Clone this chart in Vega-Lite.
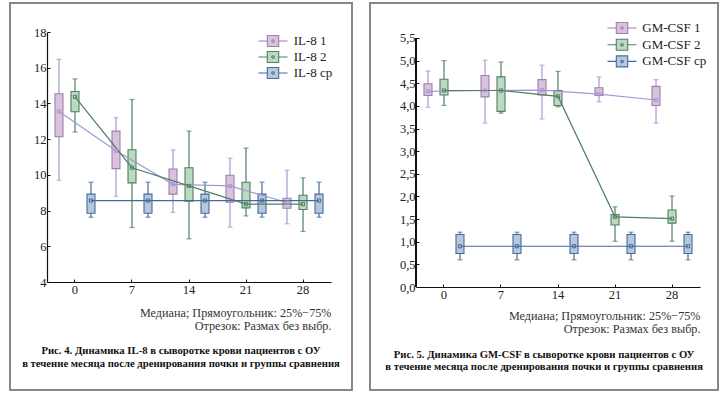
{
  "$schema": "https://vega.github.io/schema/vega-lite/v6.json",
  "padding": {"left": 9, "top": 2, "right": 0, "bottom": 0},
  "background": "white",
  "config": {
    "font": "Liberation Serif",
    "view": {"stroke": null},
    "concat": {"spacing": 16},
    "axis": {"labelFont": "Liberation Serif", "labelFontSize": 12.5, "labelColor": "#222", "domainColor": "#111", "tickColor": "#111", "grid": false, "tickSize": -3, "labelPadding": 4, "domainWidth": 1.2, "labelOverlap": false},
    "legend": {"labelFont": "Liberation Serif", "labelFontSize": 13, "labelColor": "#222"}
  },
  "datasets": {
    "il8": [
      {"day": 0, "group": "IL-8 1", "min": 9.7, "q1": 12.13, "median": 13.55, "q3": 14.54, "max": 16.47},
      {"day": 7, "group": "IL-8 1", "min": 8.8, "q1": 10.35, "median": 11.35, "q3": 12.45, "max": 13.2},
      {"day": 14, "group": "IL-8 1", "min": 7.9, "q1": 8.92, "median": 9.47, "q3": 10.33, "max": 11.4},
      {"day": 21, "group": "IL-8 1", "min": 7.07, "q1": 8.47, "median": 9.38, "q3": 9.98, "max": 10.93},
      {"day": 28, "group": "IL-8 1", "min": 7.26, "q1": 8.13, "median": 8.45, "q3": 8.69, "max": 10.26},
      {"day": 0, "group": "IL-8 2", "min": 12.4, "q1": 13.53, "median": 14.37, "q3": 14.67, "max": 15.37},
      {"day": 7, "group": "IL-8 2", "min": 7.05, "q1": 9.55, "median": 10.4, "q3": 11.41, "max": 14.22},
      {"day": 14, "group": "IL-8 2", "min": 6.42, "q1": 8.52, "median": 9.38, "q3": 10.4, "max": 12.45},
      {"day": 21, "group": "IL-8 2", "min": 7.7, "q1": 8.15, "median": 8.36, "q3": 9.59, "max": 11.5},
      {"day": 28, "group": "IL-8 2", "min": 6.83, "q1": 8.06, "median": 8.36, "q3": 8.86, "max": 9.83},
      {"day": 0, "group": "IL-8 ср", "min": 7.63, "q1": 7.85, "median": 8.56, "q3": 8.92, "max": 9.59},
      {"day": 7, "group": "IL-8 ср", "min": 7.63, "q1": 7.85, "median": 8.56, "q3": 8.92, "max": 9.59},
      {"day": 14, "group": "IL-8 ср", "min": 7.63, "q1": 7.85, "median": 8.56, "q3": 8.92, "max": 9.59},
      {"day": 21, "group": "IL-8 ср", "min": 7.63, "q1": 7.85, "median": 8.56, "q3": 8.92, "max": 9.59},
      {"day": 28, "group": "IL-8 ср", "min": 7.63, "q1": 7.85, "median": 8.56, "q3": 8.92, "max": 9.59}
    ],
    "gm": [
      {"day": 0, "group": "GM-CSF 1", "min": 3.97, "q1": 4.23, "median": 4.32, "q3": 4.49, "max": 4.77},
      {"day": 7, "group": "GM-CSF 1", "min": 3.62, "q1": 4.2, "median": 4.34, "q3": 4.67, "max": 5.01},
      {"day": 14, "group": "GM-CSF 1", "min": 3.71, "q1": 4.24, "median": 4.35, "q3": 4.58, "max": 4.9},
      {"day": 21, "group": "GM-CSF 1", "min": 4.09, "q1": 4.23, "median": 4.26, "q3": 4.4, "max": 4.64},
      {"day": 28, "group": "GM-CSF 1", "min": 3.62, "q1": 4.01, "median": 4.13, "q3": 4.43, "max": 4.58},
      {"day": 0, "group": "GM-CSF 2", "min": 4.01, "q1": 4.24, "median": 4.34, "q3": 4.59, "max": 5.0},
      {"day": 7, "group": "GM-CSF 2", "min": 3.84, "q1": 3.88, "median": 4.34, "q3": 4.64, "max": 4.97},
      {"day": 14, "group": "GM-CSF 2", "min": 3.98, "q1": 4.01, "median": 4.21, "q3": 4.34, "max": 4.76},
      {"day": 21, "group": "GM-CSF 2", "min": 1.01, "q1": 1.37, "median": 1.55, "q3": 1.6, "max": 1.77},
      {"day": 28, "group": "GM-CSF 2", "min": 1.01, "q1": 1.41, "median": 1.51, "q3": 1.7, "max": 2.01},
      {"day": 0, "group": "GM-CSF ср", "min": 0.6, "q1": 0.74, "median": 0.9, "q3": 1.16, "max": 1.21},
      {"day": 7, "group": "GM-CSF ср", "min": 0.6, "q1": 0.74, "median": 0.9, "q3": 1.16, "max": 1.21},
      {"day": 14, "group": "GM-CSF ср", "min": 0.6, "q1": 0.74, "median": 0.9, "q3": 1.16, "max": 1.21},
      {"day": 21, "group": "GM-CSF ср", "min": 0.6, "q1": 0.74, "median": 0.9, "q3": 1.16, "max": 1.21},
      {"day": 28, "group": "GM-CSF ср", "min": 0.6, "q1": 0.74, "median": 0.9, "q3": 1.16, "max": 1.21}
    ]
  },
  "resolve": {"scale": {"x": "independent", "y": "independent", "fill": "independent", "stroke": "independent", "color": "independent", "xOffset": "independent"}, "legend": {"fill": "independent", "stroke": "independent"}},
  "hconcat": [
    {
      "width": 284,
      "height": 250,
      "data": {"name": "il8"},
      "title": {"text": ["Рис. 4. Динамика IL-8 в сыворотке крови пациентов с ОУ", "в течение месяца после дренирования почки и группы сравнения"], "orient": "bottom", "anchor": "middle", "frame": "bounds", "fontSize": 10.7, "fontWeight": "bold", "color": "#111", "lineHeight": 13.5, "offset": -45},
      "resolve": {"scale": {"x": "independent"}},
      "layer": [
        {
          "mark": {"type": "rect", "fill": null, "stroke": "#8b8681", "strokeWidth": 1.5},
          "encoding": {
            "x": {"datum": -0.1303, "type": "quantitative", "scale": {"domain": [0, 1], "nice": false, "zero": false}, "axis": null},
            "x2": {"datum": 1.074},
            "y": {"datum": -2.05, "type": "quantitative", "scale": {"domain": [4, 18], "nice": false, "zero": false}, "axis": {"values": [4, 6, 8, 10, 12, 14, 16, 18], "title": null, "labelOverlap": false, "tickCount": 8}},
            "y2": {"datum": 19.61}
          }
        },
        {
          "encoding": {
            "x": {"field": "day", "type": "ordinal", "scale": {"type": "band", "paddingInner": 0.158, "paddingOuter": 0.07},
              "axis": {"labelAngle": 0, "title": ["Медиана; Прямоугольник: 25%−75%", "Отрезок: Размах без выбр."], "titleFont": "Liberation Serif", "titleFontSize": 12.2, "titleFontWeight": "normal", "titleColor": "#333", "titleAnchor": "end", "titleAlign": "right", "titlePadding": 11, "titleLineHeight": 13}},
            "xOffset": {"field": "group", "type": "nominal", "scale": {"paddingInner": 0.5, "paddingOuter": 0.25}}
          },
          "layer": [
            {
              "mark": {"type": "rule", "strokeWidth": 1.2},
              "encoding": {
                "y": {"field": "min", "type": "quantitative", "axis": {"values": [4, 6, 8, 10, 12, 14, 16, 18], "title": null, "labelOverlap": false, "tickCount": 8}},
                "y2": {"field": "max"},
                "color": {"field": "group", "type": "nominal", "scale": {"range": ["#a597d6", "#4f7f64", "#48699a"]}, "legend": null}
              }
            },
            {
              "mark": {"type": "tick", "orient": "horizontal", "size": 5, "thickness": 1.2},
              "encoding": {
                "y": {"field": "min", "type": "quantitative", "axis": {"values": [4, 6, 8, 10, 12, 14, 16, 18], "title": null, "labelOverlap": false, "tickCount": 8}},
                "color": {"field": "group", "type": "nominal", "legend": null}
              }
            },
            {
              "mark": {"type": "tick", "orient": "horizontal", "size": 5, "thickness": 1.2},
              "encoding": {
                "y": {"field": "max", "type": "quantitative", "axis": {"values": [4, 6, 8, 10, 12, 14, 16, 18], "title": null, "labelOverlap": false, "tickCount": 8}},
                "color": {"field": "group", "type": "nominal", "legend": null}
              }
            },
            {
              "mark": {"type": "bar", "strokeWidth": 1.1},
              "encoding": {
                "y": {"field": "q1", "type": "quantitative", "axis": {"values": [4, 6, 8, 10, 12, 14, 16, 18], "title": null, "labelOverlap": false, "tickCount": 8}},
                "y2": {"field": "q3"},
                "fill": {"field": "group", "type": "nominal", "scale": {"range": ["#dac2dc", "#bcd9c1", "#b6c8de"]},
                  "legend": {"title": null, "orient": "none", "legendX": 219, "legendY": 2, "symbolSize": 144, "labelOffset": 13.7, "rowPadding": 0, "padding": 0,
                    "encode": {"symbols": {"update": {"shape": {"value": "M-2.42,0H-0.95M0.95,0H2.42M-0.95,-0.92H0.95V0.92H-0.95ZM0.2,0A0.2,0.2 0 1,1 -0.2,0A0.2,0.2 0 1,1 0.2,0"}, "strokeWidth": {"value": 1.1}}}}}},
                "stroke": {"field": "group", "type": "nominal", "scale": {"range": ["#9b80b0", "#4f7f64", "#48699a"]},
                  "legend": {"title": null, "orient": "none", "legendX": 219, "legendY": 2, "symbolSize": 144, "labelOffset": 13.7, "rowPadding": 0, "padding": 0,
                    "encode": {"symbols": {"update": {"shape": {"value": "M-2.42,0H-0.95M0.95,0H2.42M-0.95,-0.92H0.95V0.92H-0.95ZM0.2,0A0.2,0.2 0 1,1 -0.2,0A0.2,0.2 0 1,1 0.2,0"}, "strokeWidth": {"value": 1.1}}}}}}
              }
            },
            {
              "mark": {"type": "line", "strokeWidth": 1.2},
              "encoding": {
                "y": {"field": "median", "type": "quantitative", "axis": {"values": [4, 6, 8, 10, 12, 14, 16, 18], "title": null, "labelOverlap": false, "tickCount": 8}},
                "color": {"field": "group", "type": "nominal", "legend": null}
              }
            },
            {
              "mark": {"type": "point", "shape": "square", "size": 10, "filled": false, "strokeWidth": 1, "opacity": 1},
              "encoding": {
                "y": {"field": "median", "type": "quantitative", "axis": {"values": [4, 6, 8, 10, 12, 14, 16, 18], "title": null, "labelOverlap": false, "tickCount": 8}},
                "color": {"field": "group", "type": "nominal", "legend": null}
              }
            }
          ]
        }
      ]
    },
    {
      "width": 284,
      "height": 255,
      "data": {"name": "gm"},
      "title": {"text": ["Рис. 5. Динамика GM-CSF в сыворотке крови пациентов с ОУ", "в течение месяца после дренирования почки и группы сравнения"], "orient": "bottom", "anchor": "middle", "frame": "bounds", "fontSize": 10.7, "fontWeight": "bold", "color": "#111", "lineHeight": 12.5, "offset": -41},
      "resolve": {"scale": {"x": "independent"}},
      "layer": [
        {
          "encoding": {
            "x": {"datum": 0, "type": "quantitative", "scale": {"domain": [0, 1], "nice": false, "zero": false}, "axis": null}
          },
          "layer": [
            {
              "mark": {"type": "rect", "fill": null, "stroke": "#8b8681", "strokeWidth": 1.5},
              "encoding": {
                "x": {"datum": -0.162, "type": "quantitative"},
                "x2": {"datum": 1.064},
                "y": {"datum": -2.27, "type": "quantitative", "scale": {"domain": [0, 5.632], "nice": false, "zero": false}, "axis": {"values": [0, 0.5, 1, 1.5, 2, 2.5, 3, 3.5, 4, 4.5, 5, 5.5], "format": ".1f", "labelExpr": "replace(datum.label, '.', ',')", "title": null, "labelOverlap": false, "tickCount": 12, "domain": false}},
                "y2": {"datum": 6.265}
              }
            },
            {
              "mark": {"type": "rule", "stroke": "#111", "strokeWidth": 1.2},
              "encoding": {
                "x": {"datum": 0, "type": "quantitative"},
                "y": {"datum": 0, "type": "quantitative"},
                "y2": {"datum": 5.5}
              }
            }
          ]
        },
        {
          "encoding": {
            "x": {"field": "day", "type": "ordinal", "scale": {"type": "band", "paddingInner": 0.158, "paddingOuter": 0.07},
              "axis": {"labelAngle": 0, "title": ["Медиана; Прямоугольник: 25%−75%", "Отрезок: Размах без выбр."], "titleFont": "Liberation Serif", "titleFontSize": 12.2, "titleFontWeight": "normal", "titleColor": "#333", "titleAnchor": "end", "titleAlign": "right", "titlePadding": 9, "titleLineHeight": 13}},
            "xOffset": {"field": "group", "type": "nominal", "scale": {"paddingInner": 0.5, "paddingOuter": 0.25}}
          },
          "layer": [
            {
              "mark": {"type": "rule", "strokeWidth": 1.2},
              "encoding": {
                "y": {"field": "min", "type": "quantitative", "axis": {"values": [0, 0.5, 1, 1.5, 2, 2.5, 3, 3.5, 4, 4.5, 5, 5.5], "format": ".1f", "labelExpr": "replace(datum.label, '.', ',')", "title": null, "labelOverlap": false, "tickCount": 12, "domain": false}},
                "y2": {"field": "max"},
                "color": {"field": "group", "type": "nominal", "scale": {"range": ["#a597d6", "#4f7f64", "#48699a"]}, "legend": null}
              }
            },
            {
              "mark": {"type": "tick", "orient": "horizontal", "size": 5, "thickness": 1.2},
              "encoding": {
                "y": {"field": "min", "type": "quantitative", "axis": {"values": [0, 0.5, 1, 1.5, 2, 2.5, 3, 3.5, 4, 4.5, 5, 5.5], "format": ".1f", "labelExpr": "replace(datum.label, '.', ',')", "title": null, "labelOverlap": false, "tickCount": 12, "domain": false}},
                "color": {"field": "group", "type": "nominal", "legend": null}
              }
            },
            {
              "mark": {"type": "tick", "orient": "horizontal", "size": 5, "thickness": 1.2},
              "encoding": {
                "y": {"field": "max", "type": "quantitative", "axis": {"values": [0, 0.5, 1, 1.5, 2, 2.5, 3, 3.5, 4, 4.5, 5, 5.5], "format": ".1f", "labelExpr": "replace(datum.label, '.', ',')", "title": null, "labelOverlap": false, "tickCount": 12, "domain": false}},
                "color": {"field": "group", "type": "nominal", "legend": null}
              }
            },
            {
              "mark": {"type": "bar", "strokeWidth": 1.1},
              "encoding": {
                "y": {"field": "q1", "type": "quantitative", "axis": {"values": [0, 0.5, 1, 1.5, 2, 2.5, 3, 3.5, 4, 4.5, 5, 5.5], "format": ".1f", "labelExpr": "replace(datum.label, '.', ',')", "title": null, "labelOverlap": false, "tickCount": 12, "domain": false}},
                "y2": {"field": "q3"},
                "fill": {"field": "group", "type": "nominal", "scale": {"range": ["#dac2dc", "#bcd9c1", "#b6c8de"]},
                  "legend": {"title": null, "orient": "none", "legendX": 199, "legendY": -11, "symbolSize": 144, "labelOffset": 13.3, "rowPadding": 0.7, "padding": 0,
                    "encode": {"symbols": {"update": {"shape": {"value": "M-2.42,0H-0.95M0.95,0H2.42M-0.95,-0.92H0.95V0.92H-0.95ZM0.2,0A0.2,0.2 0 1,1 -0.2,0A0.2,0.2 0 1,1 0.2,0"}, "strokeWidth": {"value": 1.1}}}}}},
                "stroke": {"field": "group", "type": "nominal", "scale": {"range": ["#9b80b0", "#4f7f64", "#48699a"]},
                  "legend": {"title": null, "orient": "none", "legendX": 199, "legendY": -11, "symbolSize": 144, "labelOffset": 13.3, "rowPadding": 0.7, "padding": 0,
                    "encode": {"symbols": {"update": {"shape": {"value": "M-2.42,0H-0.95M0.95,0H2.42M-0.95,-0.92H0.95V0.92H-0.95ZM0.2,0A0.2,0.2 0 1,1 -0.2,0A0.2,0.2 0 1,1 0.2,0"}, "strokeWidth": {"value": 1.1}}}}}}
              }
            },
            {
              "mark": {"type": "line", "strokeWidth": 1.2},
              "encoding": {
                "y": {"field": "median", "type": "quantitative", "axis": {"values": [0, 0.5, 1, 1.5, 2, 2.5, 3, 3.5, 4, 4.5, 5, 5.5], "format": ".1f", "labelExpr": "replace(datum.label, '.', ',')", "title": null, "labelOverlap": false, "tickCount": 12, "domain": false}},
                "color": {"field": "group", "type": "nominal", "legend": null}
              }
            },
            {
              "mark": {"type": "point", "shape": "square", "size": 10, "filled": false, "strokeWidth": 1, "opacity": 1},
              "encoding": {
                "y": {"field": "median", "type": "quantitative", "axis": {"values": [0, 0.5, 1, 1.5, 2, 2.5, 3, 3.5, 4, 4.5, 5, 5.5], "format": ".1f", "labelExpr": "replace(datum.label, '.', ',')", "title": null, "labelOverlap": false, "tickCount": 12, "domain": false}},
                "color": {"field": "group", "type": "nominal", "legend": null}
              }
            }
          ]
        }
      ]
    }
  ]
}
